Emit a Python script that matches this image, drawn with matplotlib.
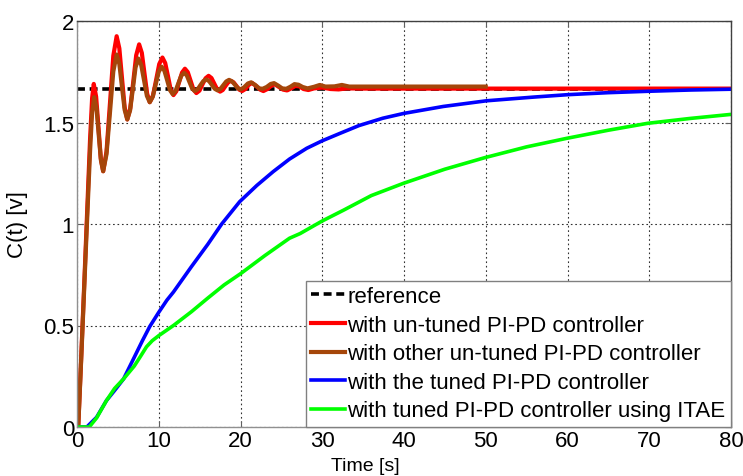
import matplotlib
matplotlib.use('Agg')
import matplotlib.pyplot as plt

# ── Data ──
t_ref = [0, 80]
c_ref = [1.667, 1.667]

t_untuned = [0, 0.15, 0.5, 0.9, 1.3, 1.6, 1.85, 2.05, 2.34, 2.63, 2.91, 3.2,
             3.61, 4.03, 4.44, 4.85, 5.18, 5.5, 5.83, 6.15, 6.51, 6.88, 7.24, 7.6,
             7.93, 8.25, 8.58, 8.9, 9.29, 9.68, 10.06, 10.45, 10.79, 11.13, 11.46, 11.8,
             12.15, 12.5, 12.85, 13.2, 13.55, 13.9, 14.25, 14.6, 14.98, 15.35, 15.73, 16.1,
             16.45, 16.8, 17.15, 17.5, 17.83, 18.15, 18.48, 18.8, 19.15, 19.5, 19.85, 20.2,
             20.6, 21.0, 21.4, 21.9, 22.4, 22.8, 23.3, 23.8, 24.2, 24.7, 25.2, 25.7,
             26.2, 26.7, 27.2, 27.7, 28.3, 29, 30, 31, 32, 33, 35, 40, 50, 60, 70, 80]
c_untuned = [0, 0.0, 0.33, 0.72, 1.12, 1.42, 1.62, 1.69, 1.627, 1.475, 1.323, 1.26,
             1.357, 1.593, 1.828, 1.925, 1.865, 1.72, 1.575, 1.515, 1.569, 1.70, 1.831, 1.885,
             1.843, 1.743, 1.642, 1.6, 1.632, 1.71, 1.788, 1.82, 1.793, 1.728, 1.662, 1.635,
             1.654, 1.70, 1.746, 1.765, 1.748, 1.705, 1.662, 1.645, 1.657, 1.688, 1.718, 1.73,
             1.719, 1.691, 1.663, 1.652, 1.66, 1.679, 1.697, 1.705, 1.698, 1.68, 1.662, 1.655,
             1.665, 1.685, 1.695, 1.68, 1.662, 1.655, 1.665, 1.682, 1.688, 1.675, 1.662, 1.658,
             1.668, 1.68, 1.678, 1.665, 1.66, 1.668, 1.672, 1.665, 1.663, 1.668, 1.667, 1.667,
             1.667, 1.667, 1.667, 1.667]

t_other = [0, 0.15, 0.5, 0.9, 1.3, 1.6, 1.85, 2.1, 2.38, 2.65, 2.93, 3.2,
           3.61, 4.03, 4.44, 4.85, 5.18, 5.5, 5.83, 6.15, 6.49, 6.83, 7.16, 7.5,
           7.85, 8.2, 8.55, 8.9, 9.26, 9.63, 9.99, 10.35, 10.69, 11.03, 11.36, 11.7,
           12.05, 12.4, 12.75, 13.1, 13.43, 13.75, 14.08, 14.4, 14.75, 15.1, 15.45, 15.8,
           16.15, 16.5, 16.85, 17.2, 17.55, 17.9, 18.25, 18.6, 18.95, 19.3, 19.65, 20.0,
           20.4, 20.9, 21.3, 21.8, 22.3, 22.7, 23.2, 23.7, 24.1, 24.6, 25.1, 25.6,
           26.1, 26.6, 27.1, 27.6, 28.2, 29.0, 29.7, 30.4, 31.5, 32.4, 33.3, 35, 40, 45, 50]
c_other = [0, 0.0, 0.32, 0.7, 1.08, 1.36, 1.55, 1.625, 1.572, 1.443, 1.313, 1.26,
           1.344, 1.548, 1.751, 1.835, 1.788, 1.675, 1.562, 1.515, 1.559, 1.665, 1.771, 1.815,
           1.784, 1.708, 1.631, 1.6, 1.626, 1.688, 1.749, 1.775, 1.755, 1.708, 1.66, 1.64,
           1.655, 1.693, 1.73, 1.745, 1.732, 1.70, 1.668, 1.655, 1.663, 1.684, 1.704, 1.712,
           1.704, 1.685, 1.666, 1.658, 1.666, 1.684, 1.702, 1.71, 1.703, 1.687, 1.67, 1.663,
           1.672, 1.692, 1.698, 1.685, 1.668, 1.666, 1.675, 1.69, 1.694, 1.682, 1.668, 1.666,
           1.676, 1.689, 1.686, 1.675, 1.668, 1.676, 1.685, 1.677, 1.678, 1.685, 1.677, 1.677,
           1.677, 1.677, 1.677]

t_tuned = [0, 1.2, 2.4, 3.6, 4.6, 5.7, 7.0, 8.0, 8.9, 10, 11, 11.8, 14, 16, 17.7, 19.9, 22,
           24, 26, 28.1, 30, 32.2, 34.5, 37.4, 40, 44.8, 50.1, 55.8, 60, 65, 70, 75, 80]
c_tuned = [0, 0.0, 0.048, 0.13, 0.18, 0.237, 0.343, 0.425, 0.495, 0.565, 0.625, 0.665, 0.79,
           0.9, 1.0, 1.11, 1.19, 1.258, 1.32, 1.373, 1.41, 1.447, 1.485, 1.521, 1.545, 1.579,
           1.607, 1.625, 1.637, 1.647, 1.654, 1.66, 1.664]

t_itae = [0, 1.5, 2.4, 3.6, 4.6, 5.7, 7.0, 7.8, 8.5, 9.2, 10, 11.8, 14, 16, 18, 20, 23, 26,
          27.3, 30, 32.6, 36, 39.9, 45, 49.9, 55, 59.9, 65, 69.8, 75, 80]
c_itae = [0, 0.0, 0.045, 0.13, 0.19, 0.237, 0.3, 0.35, 0.395, 0.425, 0.45, 0.5, 0.568, 0.635,
          0.7, 0.755, 0.845, 0.93, 0.953, 1.015, 1.068, 1.14, 1.2, 1.27, 1.327, 1.38, 1.422,
          1.462, 1.496, 1.52, 1.54]

labels = ['reference',
          'with un-tuned PI-PD controller',
          'with other un-tuned PI-PD controller',
          'with the tuned PI-PD controller',
          'with tuned PI-PD controller using ITAE']

x_ticks = [0, 10, 20, 30, 40, 50, 60, 70, 80]
y_ticks = [0, 0.5, 1, 1.5, 2]

plt.rcParams['font.family'] = ['Liberation Sans', 'DejaVu Sans']

fig = plt.figure(figsize=(7.43, 4.77), dpi=100)
ax = fig.add_axes([77 / 743, 1 - 428 / 477, 654 / 743, 406 / 477])

ax.plot(t_ref, c_ref, color='black', lw=2.6, ls=(0, (2.2, 1.3)), label=labels[0])
ax.plot(t_untuned, c_untuned, color='#ff0000', lw=3.0, label=labels[1])
ax.plot(t_other, c_other, color='#a5460a', lw=3.0, label=labels[2])
ax.plot(t_tuned, c_tuned, color='#0000ff', lw=2.6, label=labels[3])
ax.plot(t_itae, c_itae, color='#00ff00', lw=2.6, label=labels[4])

ax.set_xlim(0, 80)
ax.set_ylim(0, 2)
ax.set_xticks(x_ticks)
ax.set_yticks(y_ticks)
ax.set_xticklabels([str(v) for v in x_ticks])
ax.set_yticklabels(['0', '0.5', '1', '1.5', '2'])
ax.tick_params(direction='in', length=4, width=0.8, color='#606060',
               labelsize=16, pad=2, top=True, right=True)
ax.grid(True, ls=(0, (1.5, 2.5)), color='#303030', lw=0.8)

for side in ['left', 'bottom']:
    ax.spines[side].set_color('#909090')
for side in ['top', 'right']:
    ax.spines[side].set_color('#404040')
for s in ax.spines.values():
    s.set_linewidth(1.0)

ax.set_xlabel('Time [s]', fontsize=14)
ax.set_ylabel('C(t) [v]', fontsize=16)
ax.xaxis.set_label_coords((365 - 77) / 654, -0.075)
ax.yaxis.set_label_coords(-0.075, 0.5)

leg = ax.legend(loc='lower right', bbox_to_anchor=(1, 0), borderaxespad=0,
                fontsize=16, fancybox=False, framealpha=1, edgecolor='#808080',
                handlelength=1.5, handletextpad=0.12, labelspacing=0.34,
                borderpad=0.25)
leg.get_frame().set_linewidth(1.0)

fig.savefig('out.png', dpi=100, facecolor='white')
